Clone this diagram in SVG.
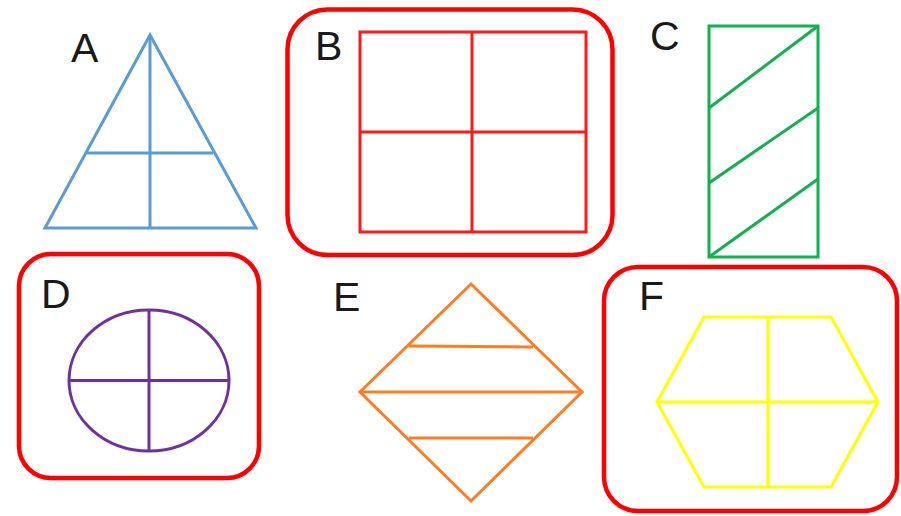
<svg xmlns="http://www.w3.org/2000/svg" width="901" height="516" viewBox="0 0 901 516">
<style>
.lbl{font-family:"Liberation Sans",Arial,sans-serif;font-size:41px;fill:#1a1a1a}
.frame{fill:none;stroke:#ff0000;stroke-width:4.5}
.s{fill:none;stroke-width:3;stroke-linejoin:miter}
</style>
<rect width="901" height="516" fill="#ffffff"/>
<g id="A">
<text class="lbl" x="71" y="62">A</text>
<g class="s" stroke="#5b9bd5">
<polygon points="150,35 45,228 256,228"/>
<line x1="150" y1="35" x2="150" y2="228"/>
<line x1="87" y1="153" x2="213" y2="153"/>
</g>
</g>
<g id="B">
<rect class="frame" x="287.5" y="9.5" width="325" height="245.5" rx="40" ry="40"/>
<text class="lbl" x="315" y="60">B</text>
<g class="s" stroke="#ff1a1a">
<rect x="360" y="32" width="226" height="200"/>
<line x1="472" y1="32" x2="472" y2="232"/>
<line x1="360" y1="132" x2="586" y2="132"/>
</g>
</g>
<g id="C">
<text class="lbl" x="650" y="50">C</text>
<g class="s" stroke="#12b050">
<rect x="709" y="26" width="109" height="231"/>
<line x1="818" y1="26" x2="709" y2="108"/>
<line x1="818" y1="108" x2="709" y2="183"/>
<line x1="818" y1="179" x2="709" y2="257"/>
</g>
</g>
<g id="D">
<rect class="frame" x="19" y="254" width="240" height="224" rx="32" ry="32"/>
<text class="lbl" x="41" y="308">D</text>
<g class="s" stroke="#7030a0">
<ellipse cx="149" cy="380.5" rx="80" ry="70.5"/>
<line x1="149" y1="310" x2="149" y2="451"/>
<line x1="69" y1="380.5" x2="229" y2="380.5"/>
</g>
</g>
<g id="E">
<text class="lbl" x="333" y="311">E</text>
<g class="s" stroke="#ff7c22">
<polygon points="471,284 582,392 471,501 360,392"/>
<line x1="409" y1="346" x2="533" y2="347"/>
<line x1="360" y1="392" x2="582" y2="392"/>
<line x1="409" y1="438" x2="533" y2="438"/>
</g>
</g>
<g id="F">
<rect class="frame" x="604" y="267" width="293" height="244" rx="34" ry="34"/>
<text class="lbl" x="639" y="310">F</text>
<g class="s" stroke="#ffff00">
<polygon points="704,317 831,317 878,402 831,487 704,487 657,402"/>
<line x1="768" y1="317" x2="768" y2="487"/>
<line x1="657" y1="402" x2="878" y2="402"/>
</g>
</g>
</svg>
